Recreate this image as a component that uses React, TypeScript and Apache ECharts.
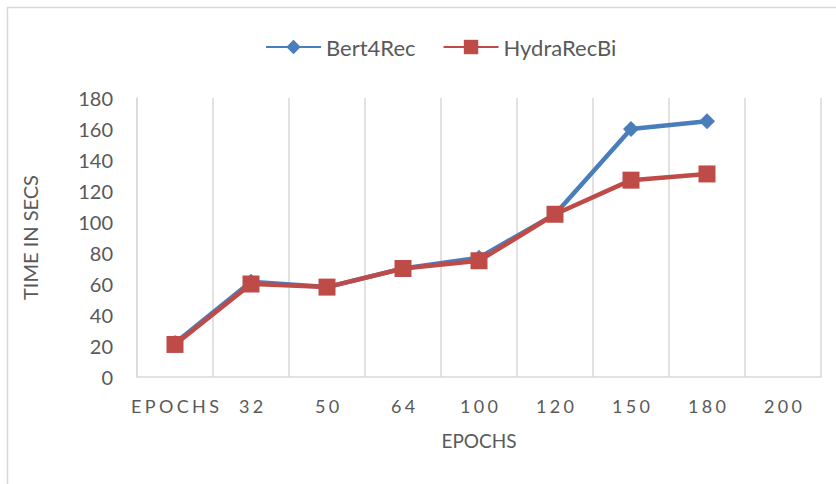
import React, { useEffect, useRef } from "react";
import * as echarts from "echarts";

const categories = ["EPOCHS", "32", "50", "64", "100", "120", "150", "180", "200"];
const bert4rec = [22, 61.5, 58, 70, 77, 105, 160, 165, null];
const hydraRecBi = [21, 60, 58, 70, 75, 105, 127, 131, null];
const yTicks = { min: 0, max: 180, interval: 20 };

const FONT = "Lato";
const spaced = (s: string) => s.split("").join("\u2009\u200A");

export default function App() {
  const ref = useRef<HTMLDivElement>(null);
  useEffect(() => {
    const chart = echarts.init(ref.current!, null, { renderer: "svg" });
    chart.setOption({
      animation: false,
      backgroundColor: "#ffffff",
      graphic: [
        {
          type: "rect",
          shape: { x: 7.5, y: 7.5, width: 840, height: 500 },
          style: { fill: "none", stroke: "#d9d9d9", lineWidth: 1.5 },
          silent: true,
        },
      ],
      legend: {
        top: 31,
        left: 260,
        itemWidth: 55,
        itemHeight: 18,
        itemGap: 27,
        textStyle: { fontFamily: FONT, fontSize: 22, color: "#595959" },
        data: ["Bert4Rec", "HydraRecBi"],
      },
      grid: { left: 137, right: 15, top: 98, bottom: 107, containLabel: false },
      xAxis: {
        type: "category",
        data: categories,
        boundaryGap: true,
        name: "EPOCHS",
        nameLocation: "middle",
        nameGap: 54,
        nameTextStyle: { fontFamily: FONT, fontSize: 19, color: "#595959" },
        axisLine: { show: true, lineStyle: { color: "#d9d9d9", width: 1.5 } },
        axisTick: { show: false },
        axisLabel: {
          interval: 0,
          fontFamily: FONT,
          fontSize: 18,
          color: "#595959",
          margin: 20,
          formatter: (v: string) => spaced(v),
        },
        splitLine: { show: true, interval: 0, lineStyle: { color: "#d9d9d9", width: 1.5 } },
      },
      yAxis: {
        type: "value",
        min: yTicks.min,
        max: yTicks.max,
        interval: yTicks.interval,
        name: "TIME IN SECS",
        nameLocation: "middle",
        nameGap: 97,
        nameRotate: 90,
        nameTextStyle: { fontFamily: FONT, fontSize: 20, color: "#595959" },
        axisLine: { show: true, lineStyle: { color: "#d9d9d9", width: 1.5 } },
        axisTick: { show: false },
        axisLabel: { fontFamily: FONT, fontSize: 20, color: "#595959", margin: 24 },
        splitLine: { show: false },
      },
      series: [
        {
          name: "Bert4Rec",
          type: "line",
          data: bert4rec,
          symbol: "diamond",
          symbolSize: 16,
          itemStyle: { color: "#4a7ebb" },
          lineStyle: { color: "#4a7ebb", width: 4.5 },
          z: 2,
        },
        {
          name: "HydraRecBi",
          type: "line",
          data: hydraRecBi,
          symbol: "rect",
          symbolSize: 17,
          itemStyle: { color: "#be4b48" },
          lineStyle: { color: "#be4b48", width: 4.5 },
          z: 3,
        },
      ],
    });
    return () => chart.dispose();
  }, []);
  return (
    <div
      ref={ref}
      style={{ position: "absolute", left: 0, top: 0, width: 836, height: 484 }}
    />
  );
}
